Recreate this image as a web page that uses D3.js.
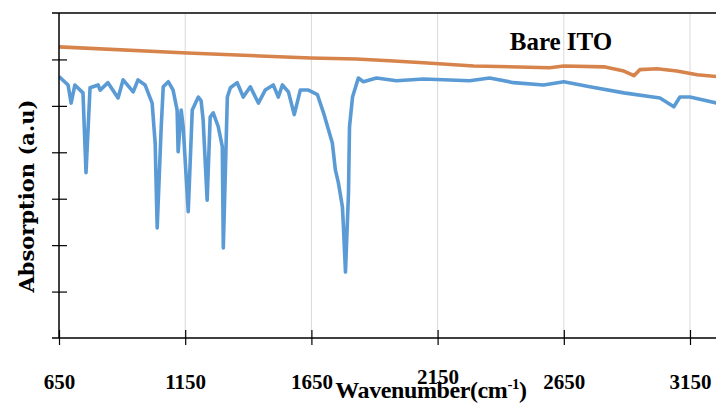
<!DOCTYPE html>
<html><head><meta charset="utf-8">
<script src="https://cdn.jsdelivr.net/npm/d3@7"></script>
<style>body{margin:0;background:#fff}svg{display:block}</style>
</head><body>
<svg id="c" width="716" height="413"></svg>
<script>
const xTicks = [650, 1150, 1650, 2150, 2650, 3150];
const yTicks = [1, 2, 3, 4, 5, 6];
const seriesNames = ["Bare ITO", "Film"];
const bareWave = [650,1158,1646,1828,1959,2094,2293,2594,2650,2809,2888,2928,2951,3019,3098,3178,3257];
const bareAbs  = [6.27,6.14,6.03,6.01,5.97,5.93,5.86,5.82,5.86,5.84,5.75,5.65,5.78,5.80,5.75,5.67,5.63];
const filmWave = [650,686,698,713,745,757,773,805,813,844,884,904,944,963,991,1019,1031,1039,1055,1063,1083,1102,1118,1122,1134,1142,1162,1178,1202,1213,1221,1237,1249,1261,1281,1297,1301,1317,1329,1356,1380,1408,1440,1467,1499,1519,1535,1559,1582,1606,1638,1674,1698,1733,1745,1757,1773,1777,1785,1797,1801,1813,1836,1856,1908,1987,2094,2277,2356,2451,2570,2650,2753,2888,3031,3086,3110,3150,3257];
const filmAbs  = [5.63,5.45,5.06,5.45,5.28,3.56,5.39,5.45,5.34,5.50,5.17,5.56,5.30,5.56,5.45,5.06,4.20,2.37,4.55,5.41,5.52,5.34,4.91,4.01,4.91,4.55,2.72,4.91,5.19,5.11,4.70,2.97,4.76,4.85,4.55,4.12,1.94,5.19,5.39,5.50,5.19,5.41,5.06,5.34,5.45,5.19,5.45,5.30,4.81,5.34,5.34,5.24,4.85,4.20,3.62,3.34,2.82,2.39,1.42,3.13,4.55,5.19,5.60,5.52,5.60,5.54,5.58,5.54,5.60,5.50,5.45,5.52,5.41,5.28,5.17,4.98,5.19,5.19,5.06];

const svg = d3.select("#c");
const x = d3.scaleLinear().domain([650, 3150]).range([59, 690]);
const y = d3.scaleLinear().domain([0, 7]).range([338, 13]);
const pL = 59, pR = 716, pT = 13, pB = 338;

svg.append("defs").append("clipPath").attr("id","clip")
  .append("rect").attr("x",pL).attr("y",pT).attr("width",pR-pL).attr("height",pB-pT);

// vertical gridlines
svg.append("g").selectAll("line").data(xTicks.slice(1)).join("line")
  .attr("x1",d=>x(d)).attr("x2",d=>x(d)).attr("y1",pT).attr("y2",pB)
  .attr("stroke","#d9d9d9").attr("stroke-width",1);

// top border
svg.append("line").attr("x1",52).attr("x2",pR).attr("y1",pT).attr("y2",pT)
  .attr("stroke","#000").attr("stroke-width",1.5);

// lines
const line = (w, a) => d3.line().x((d,i)=>x(w[i])).y((d,i)=>y(a[i]))(w);
const g = svg.append("g").attr("clip-path","url(#clip)");
g.append("path").attr("d", line(bareWave, bareAbs)).attr("fill","none")
  .attr("stroke","#d6834c").attr("stroke-width",3.6).attr("stroke-linejoin","round");
g.append("path").attr("d", line(filmWave, filmAbs)).attr("fill","none")
  .attr("stroke","#5b9bd5").attr("stroke-width",3.6).attr("stroke-linejoin","round");

// x axis
const xAxis = svg.append("g").attr("transform",`translate(0,${pB})`)
  .call(d3.axisBottom(x).tickValues(xTicks).tickSize(7).tickFormat(d3.format("d")));
xAxis.select(".domain").remove();
xAxis.append("line").attr("x1",52).attr("x2",pR).attr("stroke","#000").attr("stroke-width",1.5);
xAxis.selectAll(".tick line").attr("y1",-8).attr("y2",7).attr("stroke","#000").attr("stroke-width",1.2);
xAxis.selectAll(".tick text").attr("y",d => d === 2150 ? 46 : 51).attr("dy",0).attr("fill","#000")
  .attr("font-family","'Liberation Serif','Times New Roman',serif").attr("font-weight","bold").attr("font-size",21);

// y axis
const yAxis = svg.append("g").attr("transform",`translate(${pL},0)`)
  .call(d3.axisLeft(y).tickValues(yTicks).tickSize(7).tickFormat(""));
yAxis.select(".domain").remove();
yAxis.append("line").attr("y1",pT).attr("y2",pB).attr("stroke","#000").attr("stroke-width",1.5);
yAxis.selectAll(".tick line").attr("x1",-7).attr("x2",8).attr("stroke","#000").attr("stroke-width",1.2);

// labels
svg.append("text").attr("x",561).attr("y",50).attr("text-anchor","middle")
  .attr("font-family","'Liberation Serif','Times New Roman',serif").attr("font-weight","bold").attr("font-size",25)
  .text(seriesNames[0]);

const t = svg.append("text").attr("x",431).attr("y",398).attr("text-anchor","middle")
  .attr("font-family","'Liberation Serif','Times New Roman',serif").attr("font-weight","bold").attr("font-size",24)
  .attr("letter-spacing",-0.4);
t.append("tspan").text("Wavenumber(cm");
t.append("tspan").attr("dy",-9).attr("font-size",15).text("-1");
t.append("tspan").attr("dy",9).text(")");

svg.append("text").attr("transform","translate(34,196) rotate(-90)").attr("text-anchor","middle")
  .attr("font-family","DejaVu Serif").attr("font-weight","bold").attr("font-size",21)
  .text("Absorption (a.u)");
</script>
</body></html>
